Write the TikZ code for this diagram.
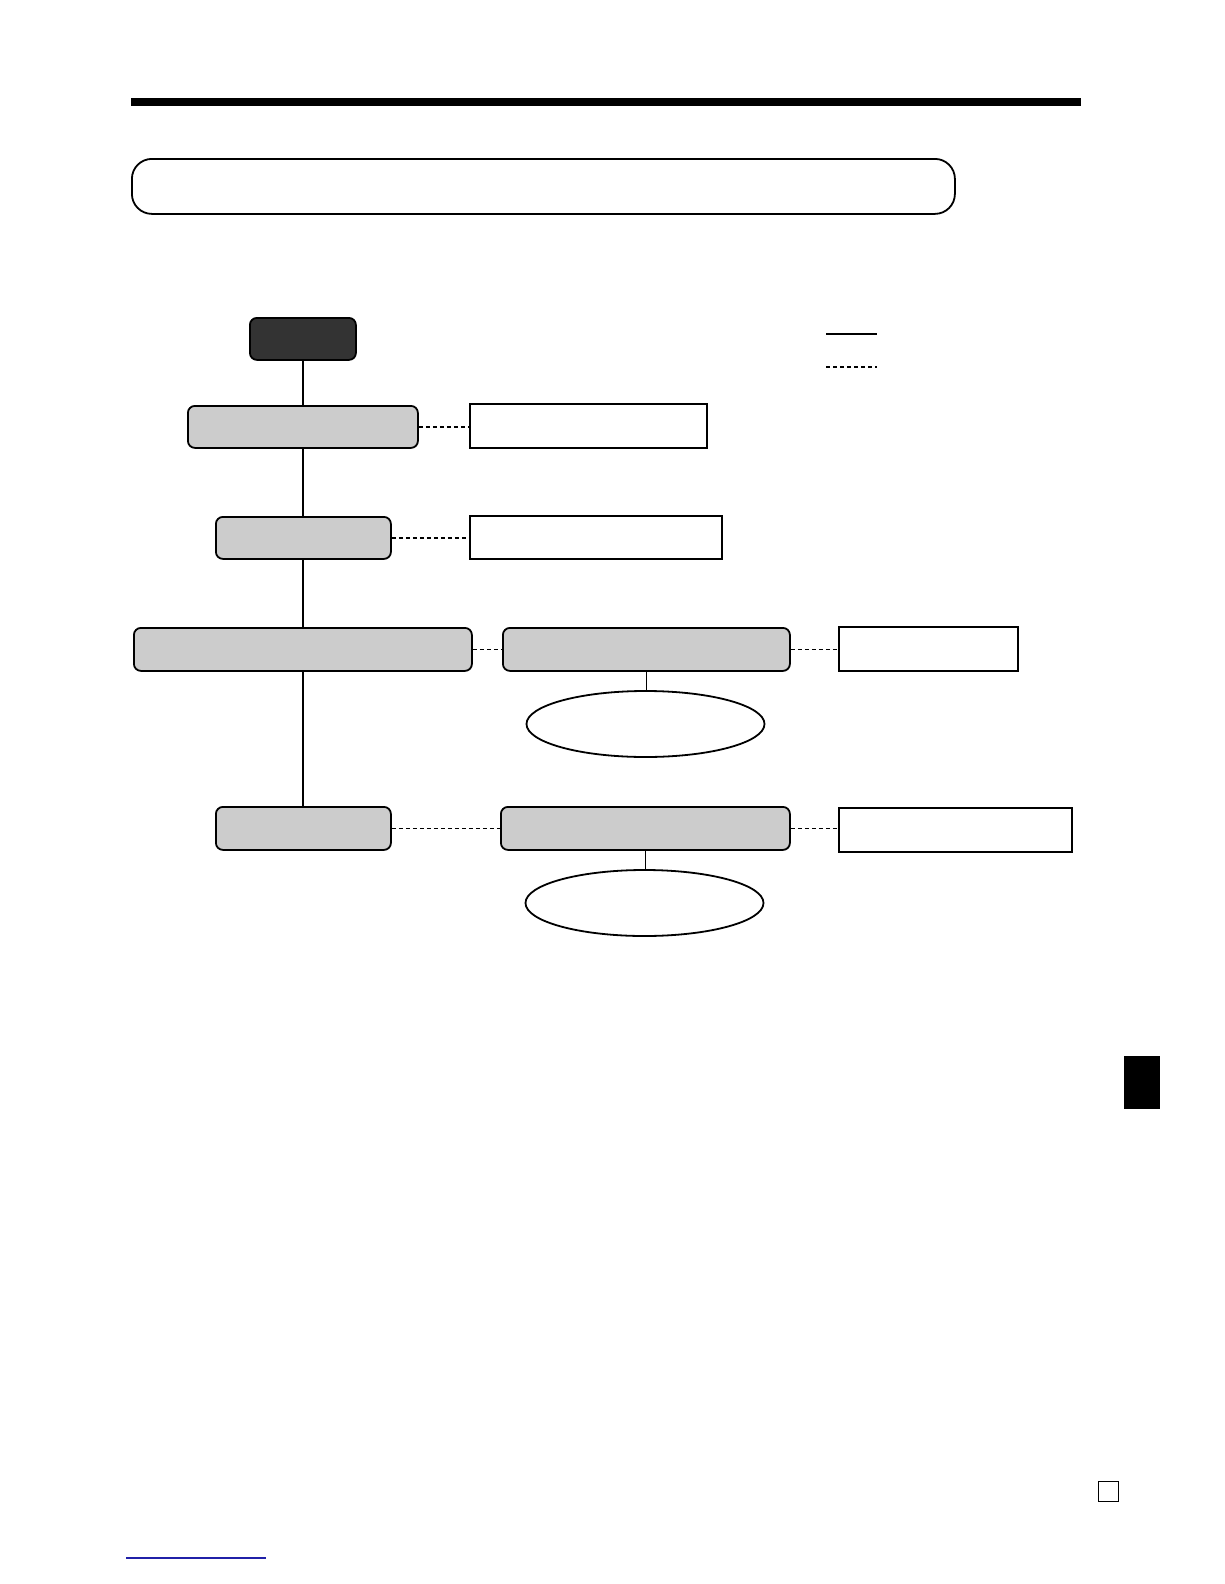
\documentclass[tikz,border=0pt]{standalone}
\usetikzlibrary{shapes.geometric}
\definecolor{boxgray}{HTML}{CCCCCC}
\definecolor{darkbox}{HTML}{333333}
\definecolor{linkblue}{HTML}{2020A8}
\tikzset{
  rbox/.style={draw=black, line width=1.8bp, fill=boxgray, rounded corners=7bp, inner sep=0bp, anchor=north west},
  startbox/.style={rbox, fill=darkbox},
  plainbox/.style={draw=black, line width=1.8bp, fill=white, inner sep=0bp, anchor=north west},
  oval/.style={draw=black, line width=1.8bp, fill=white, ellipse, inner sep=0bp},
  solidlink/.style={line width=1.8bp},
  dashlink/.style={line width=1.8bp, dash pattern=on 4bp off 3bp},
}
\begin{document}
\begin{tikzpicture}[x=1bp,y=-1bp]
\useasboundingbox (0,0) rectangle (1224,1584);
% header bar
\fill[black] (131,98) rectangle (1081,106);
% title box
\node[draw=black, line width=1.8bp, rounded corners=20bp, minimum width=823bp, minimum height=55bp, inner sep=0bp, anchor=north west] (title) at (131,158) {};
% legend
\coordinate (ls1) at (826,334);
\coordinate (ls2) at (877,334);
\coordinate (ld1) at (826,367);
\coordinate (ld2) at (877,367);
\draw[solidlink] (ls1) -- (ls2);
\draw[dashlink] (ld1) -- (ld2);
% nodes
\node[startbox, minimum width=106bp, minimum height=42bp] (start) at (249,317) {};
\node[rbox, minimum width=230bp, minimum height=42bp] (A) at (187,405) {};
\node[plainbox, minimum width=237bp, minimum height=44bp] (Ar) at (469,403) {};
\node[rbox, minimum width=175bp, minimum height=42bp] (B) at (215,516) {};
\node[plainbox, minimum width=252bp, minimum height=43bp] (Br) at (469,515) {};
\node[rbox, minimum width=338bp, minimum height=43bp] (C) at (133,627) {};
\node[rbox, minimum width=287bp, minimum height=43bp] (C2) at (502,627) {};
\node[plainbox, minimum width=179bp, minimum height=44bp] (C3) at (838,626) {};
\node[oval, minimum width=238bp, minimum height=66bp] (C4) at (645.5,724) {};
\node[rbox, minimum width=175bp, minimum height=43bp] (D) at (215,806) {};
\node[rbox, minimum width=289bp, minimum height=43bp] (D2) at (500,806) {};
\node[plainbox, minimum width=233bp, minimum height=44bp] (D3) at (838,807) {};
\node[oval, minimum width=238bp, minimum height=66bp] (D4) at (644.5,903) {};
% solid connectors
\draw[solidlink] (start.south) -- (start.south |- A.north);
\draw[solidlink] (A.south) -- (A.south |- B.north);
\draw[solidlink] (A.south |- B.south) -- (A.south |- C.north);
\draw[solidlink] (A.south |- C.south) -- (A.south |- D.north);
\draw[solidlink] (C2.south) -- (C2.south |- C4.north);
\draw[solidlink] (D2.south) -- (D2.south |- D4.north);
% dashed connectors
\draw[dashlink] (A.east) -- (A.east -| Ar.west);
\draw[dashlink] (B.east) -- (B.east -| Br.west);
\draw[dashlink] (C.east) -- (C2.west);
\draw[dashlink] (C2.east) -- (C2.east -| C3.west);
\draw[dashlink] (D.east) -- (D2.west);
\draw[dashlink] (D2.east) -- (D2.east -| D3.west);
% side tab
\fill[black] (1124,1056) rectangle (1160,1109);
% small square
\node[draw=black, line width=1.3bp, minimum width=20bp, minimum height=20bp, inner sep=0bp, anchor=north west] (sq) at (1098,1481) {};
% blue line
\coordinate (bl1) at (126,1558);
\coordinate (bl2) at (266,1558);
\draw[linkblue, line width=1.3bp] (bl1) -- (bl2);
\end{tikzpicture}
\end{document}
